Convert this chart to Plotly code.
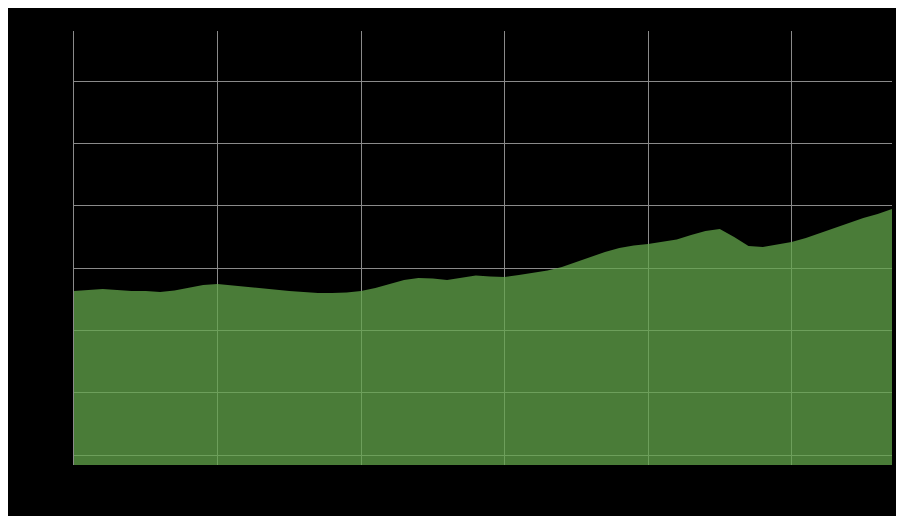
import plotly.graph_objects as go

years = list(range(1960, 2018))
values = [27.93, 28.09, 28.25, 28.09, 27.93, 27.93, 27.77, 28.01, 28.41, 28.89,
          29.05, 28.81, 28.57, 28.41, 28.17, 27.93, 27.77, 27.61, 27.61, 27.69,
          27.93, 28.41, 29.05, 29.70, 30.02, 29.94, 29.70, 30.02, 30.42, 30.26,
          30.18, 30.50, 30.82, 31.22, 31.78, 32.58, 33.39, 34.19, 34.83, 35.23,
          35.47, 35.79, 36.20, 36.92, 37.56, 37.88, 36.60, 35.15, 34.99, 35.39,
          35.79, 36.44, 37.24, 38.04, 38.92, 39.65, 40.29, 41.09]

fig = go.Figure()
fig.add_trace(go.Scatter(
    x=years, y=values, mode="lines", fill="tozeroy",
    line=dict(width=0, color="rgba(99,165,75,0.75)"),
    fillcolor="rgba(99,165,75,0.75)",
    showlegend=False,
))

fig.update_layout(
    width=896, height=508,
    paper_bgcolor="black", plot_bgcolor="black",
    margin=dict(l=66, r=12, t=23, b=51),
    xaxis=dict(range=[1960, 2017], tick0=1960, dtick=10,
               showgrid=True, gridcolor="#8a8a8a", gridwidth=1,
               showticklabels=False, zeroline=False, showline=False),
    yaxis=dict(range=[0, 69.66], tick0=1.6, dtick=10,
               showgrid=True, gridcolor="#8a8a8a", gridwidth=1,
               showticklabels=False, zeroline=False,
               showline=True, linecolor="#8a8a8a", linewidth=1, layer="above traces"),
)

fig.write_html("out.html")
